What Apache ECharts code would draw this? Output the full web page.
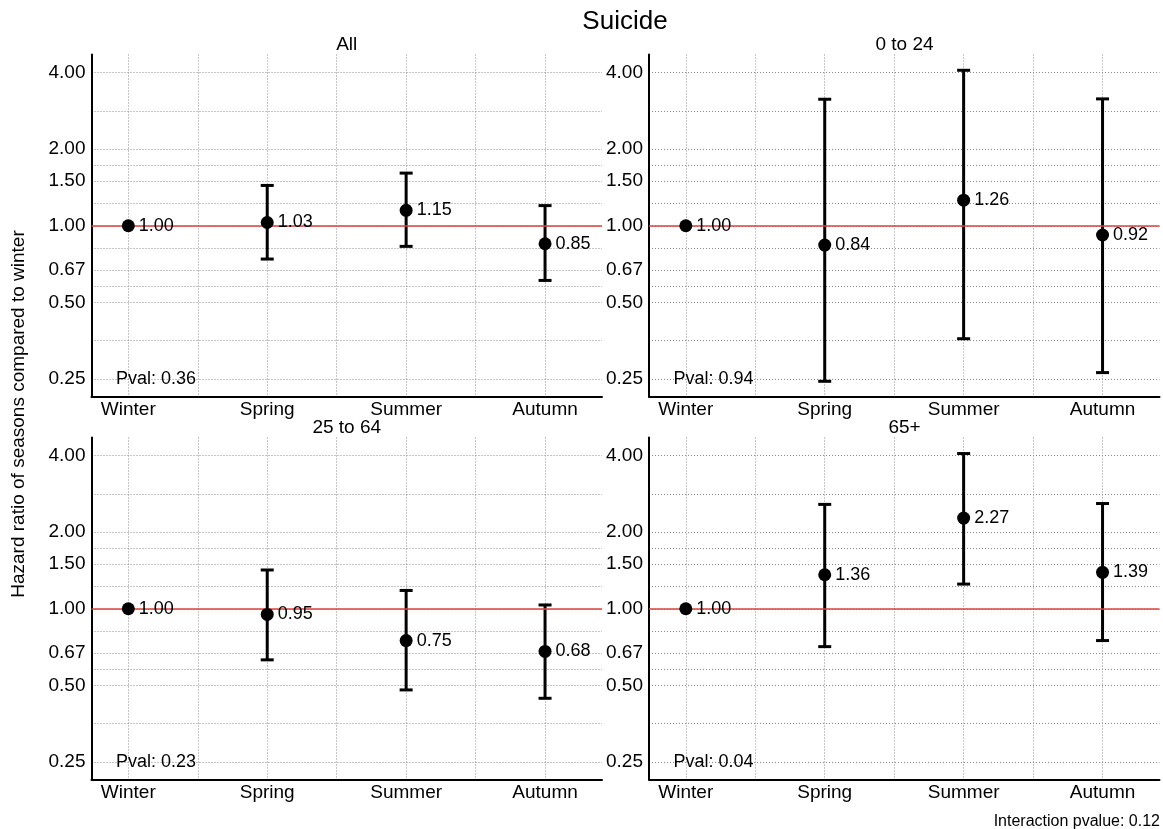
<!DOCTYPE html>
<html>
<head>
<meta charset="utf-8">
<script src="https://cdn.jsdelivr.net/npm/echarts@6/dist/echarts.min.js"></script>
<style>
  html, body { margin: 0; padding: 0; background: #fff; }
  #chart { width: 1163px; height: 829px; }
</style>
</head>
<body>
<div id="chart"></div>
<script>
// data
const seasons = ['Winter', 'Spring', 'Summer', 'Autumn'];
const panelNames = ['All', '0 to 24', '25 to 64', '65+'];
const pvals = [0.36, 0.94, 0.23, 0.04];
const yTicks = [0.25, 0.5, 0.67, 1, 1.5, 2, 4];
const interactionP = 0.12;

const hrAll = [1.00, 1.03, 1.15, 0.85];
const lowAll = [null, 0.74, 0.83, 0.61];
const highAll = [null, 1.44, 1.61, 1.20];

const hrYoung = [1.00, 0.84, 1.26, 0.92];
const lowYoung = [null, 0.245, 0.36, 0.265];
const highYoung = [null, 3.14, 4.08, 3.15];

const hrMid = [1.00, 0.95, 0.75, 0.68];
const lowMid = [null, 0.63, 0.48, 0.445];
const highMid = [null, 1.42, 1.18, 1.035];

const hrOld = [1.00, 1.36, 2.27, 1.39];
const lowOld = [null, 0.71, 1.25, 0.75];
const highOld = [null, 2.57, 4.07, 2.59];

const panels = [
  { hr: hrAll, low: lowAll, high: highAll },
  { hr: hrYoung, low: lowYoung, high: highYoung },
  { hr: hrMid, low: lowMid, high: highMid },
  { hr: hrOld, low: lowOld, high: highOld }
];

const font = 'Liberation Sans, Arial, Helvetica, sans-serif';
const ink = '#000';

// minor grid lines sit halfway (in log space) between the labelled ticks
const yGrid = yTicks.slice();
for (let i = 0; i < yTicks.length - 1; i++) {
  yGrid.push(Math.sqrt(yTicks[i] * yTicks[i + 1]));
}

const gridPos = [
  { left: 91.5, top: 54.5 },
  { left: 649, top: 54.5 },
  { left: 91.5, top: 437.5 },
  { left: 649, top: 437.5 }
];

const chart = echarts.init(document.getElementById('chart'));

const grid = [], xAxis = [], yAxis = [], series = [];

gridPos.forEach((g, k) => {
  grid.push({ left: g.left, top: g.top, width: 510.5, height: 342, containLabel: false });

  xAxis.push({
    type: 'value', gridIndex: k, min: -0.265, max: 3.41,
    axisLine: { show: true, onZero: false, lineStyle: { color: '#000', width: 2 } },
    axisTick: { show: false, customValues: [0, 0.5, 1, 1.5, 2, 2.5, 3] },
    splitLine: { show: true, lineStyle: { color: '#8a8a8a', width: 1, type: [1, 2] } },
    axisLabel: {
      customValues: [0, 1, 2, 3],
      formatter: (v) => seasons[Math.round(v)],
      color: ink, fontSize: 19, fontFamily: font, margin: 4, lineHeight: 19
    }
  });

  yAxis.push({
    type: 'log', logBase: 2, gridIndex: k, min: 0.2135, max: 4.706,
    axisLine: { show: true, onZero: false, lineStyle: { color: '#000', width: 2 } },
    axisTick: { show: false, customValues: yGrid },
    splitLine: { show: true, lineStyle: { color: '#8a8a8a', width: 1, type: [1, 2] } },
    axisLabel: {
      customValues: yTicks,
      formatter: (v) => Number(v).toFixed(2),
      color: ink, fontSize: 19, fontFamily: font, margin: 6
    }
  });

  const p = panels[k];

  // reference line + p-value text
  series.push({
    type: 'scatter', xAxisIndex: k, yAxisIndex: k, z: 1,
    data: [[0.2, 0.25]],
    symbolSize: 1,
    itemStyle: { color: 'rgba(0,0,0,0)', opacity: 1 },
    label: {
      show: true, position: 'inside',
      formatter: () => 'Pval: ' + pvals[k].toFixed(2),
      color: ink, fontSize: 18, fontFamily: font
    },
    silent: true,
    markLine: {
      silent: true, symbol: 'none', label: { show: false },
      lineStyle: { color: '#d8433e', width: 1.5, type: 'solid' },
      data: [{ yAxis: 1 }]
    }
  });

  // confidence intervals
  series.push({
    type: 'custom', xAxisIndex: k, yAxisIndex: k, z: 3,
    data: seasons.map((s, i) => [i, p.low[i], p.high[i]]).filter((d) => d[1] != null),
    renderItem: function (params, api) {
      const top = api.coord([api.value(0), api.value(2)]);
      const bot = api.coord([api.value(0), api.value(1)]);
      const w = 6.5;
      const style = { stroke: '#000', lineWidth: 3 };
      return {
        type: 'group',
        children: [
          { type: 'line', shape: { x1: top[0], y1: top[1], x2: bot[0], y2: bot[1] }, style: style },
          { type: 'line', shape: { x1: top[0] - w, y1: top[1], x2: top[0] + w, y2: top[1] }, style: style },
          { type: 'line', shape: { x1: bot[0] - w, y1: bot[1], x2: bot[0] + w, y2: bot[1] }, style: style }
        ]
      };
    }
  });

  // hazard ratios
  series.push({
    type: 'scatter', xAxisIndex: k, yAxisIndex: k, z: 5,
    data: p.hr.map((v, i) => [i, v]),
    symbol: 'circle', symbolSize: 13,
    itemStyle: { color: '#000', opacity: 1 },
    label: {
      show: true, position: 'right', distance: 4,
      formatter: (d) => d.value[1].toFixed(2),
      color: ink, fontSize: 18, fontFamily: font
    }
  });
});

const graphic = [
  { type: 'text', x: 625, y: 21.5, style: { text: 'Suicide', font: '26px ' + font, fill: ink, textAlign: 'center', textVerticalAlign: 'middle' } },
  { type: 'text', x: 346.75, y: 45, style: { text: panelNames[0], font: '19px ' + font, fill: ink, textAlign: 'center', textVerticalAlign: 'middle' } },
  { type: 'text', x: 904.5, y: 45, style: { text: panelNames[1], font: '19px ' + font, fill: ink, textAlign: 'center', textVerticalAlign: 'middle' } },
  { type: 'text', x: 346.75, y: 428, style: { text: panelNames[2], font: '19px ' + font, fill: ink, textAlign: 'center', textVerticalAlign: 'middle' } },
  { type: 'text', x: 904.5, y: 428, style: { text: panelNames[3], font: '19px ' + font, fill: ink, textAlign: 'center', textVerticalAlign: 'middle' } },
  { type: 'text', x: 19, y: 414, rotation: Math.PI / 2, style: { text: 'Hazard ratio of seasons compared to winter', font: '19px ' + font, fill: ink, textAlign: 'center', textVerticalAlign: 'middle' } },
  { type: 'text', x: 1160, y: 822, style: { text: 'Interaction pvalue: ' + interactionP.toFixed(2), font: '16px ' + font, fill: ink, textAlign: 'right', textVerticalAlign: 'middle' } }
];

chart.setOption({
  animation: false,
  backgroundColor: '#fff',
  grid: grid,
  xAxis: xAxis,
  yAxis: yAxis,
  series: series,
  graphic: graphic
});
</script>
</body>
</html>
